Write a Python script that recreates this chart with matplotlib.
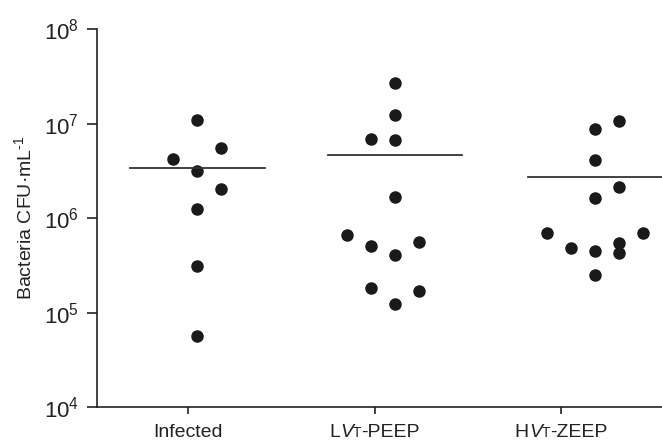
import numpy as np
import matplotlib
matplotlib.use('Agg')
import matplotlib.pyplot as plt
from matplotlib.offsetbox import TextArea, HPacker, AnnotationBbox

plt.rcParams['font.family'] = ['Liberation Sans', 'DejaVu Sans']
plt.rcParams['mathtext.fontset'] = 'custom'
plt.rcParams['mathtext.rm'] = 'Liberation Sans'
plt.rcParams['mathtext.it'] = 'Liberation Sans:italic'

# log10(CFU/mL), with horizontal slot within each group
infected = [7.04, 6.74, 6.62, 6.50, 6.31, 6.10, 5.49, 4.75]
infected_slot = [0, 1, -1, 0, 1, 0, 0, 0]
lvt_peep = [7.43, 7.09, 6.84, 6.83, 6.22, 5.82, 5.70, 5.75, 5.61, 5.26, 5.23, 5.09]
lvt_slot = [0, 0, -1, 0, 0, -2, -1, 1, 0, -1, 1, 0]
hvt_zeep = [7.03, 6.94, 6.61, 6.33, 6.21, 5.84, 5.84, 5.68, 5.74, 5.65, 5.63, 5.40]
hvt_slot = [1, 0, 0, 1, 0, -2, 2, -1, 1, 0, 1, 0]
means = [6.53, 6.67, 6.43]

# tick label pieces: (text, style, size)
tick_parts = [
    [('Infected', 'normal', 14)],
    [('L', 'normal', 14), ('V', 'italic', 14), ('T', 'normal', 10), ('-PEEP', 'normal', 14)],
    [('H', 'normal', 14), ('V', 'italic', 14), ('T', 'normal', 10), ('-ZEEP', 'normal', 14)],
]

groups = [(infected, infected_slot), (lvt_peep, lvt_slot), (hvt_zeep, hvt_slot)]
centers = [0.05, 1.11, 2.18]
step = 0.129

fig = plt.figure(figsize=(6.62, 4.41), dpi=100)
ax = fig.add_axes([0.146, 0.077, 0.854, 0.857])

for (vals, slots), c, m in zip(groups, centers, means):
    xs = c + step * np.array(slots)
    ax.plot(xs, 10 ** np.array(vals), 'o', color='#1a1a1a', markersize=8, clip_on=False)
    ax.plot([c - 0.36, c + 0.36], [10 ** m, 10 ** m], '-', color='#333333', linewidth=1.3, clip_on=False)

ax.set_yscale('log')
ax.set_ylim(1e4, 1e8)
ax.set_xlim(-0.49, 2.54)
ax.set_yticks([1e4, 1e5, 1e6, 1e7, 1e8])
ax.set_yticklabels([r'$\mathregular{10^{%d}}$' % k for k in range(4, 9)], fontsize=16)
ax.yaxis.set_minor_locator(matplotlib.ticker.NullLocator())
ax.set_xticks([0, 1, 2])
ax.set_xticklabels(['', '', ''])

for s in ['top', 'right']:
    ax.spines[s].set_visible(False)
for s in ['left', 'bottom']:
    ax.spines[s].set_linewidth(1.2)
    ax.spines[s].set_color('#222222')
ax.tick_params(axis='y', length=7, width=1.2, pad=6, colors='#222222')
ax.tick_params(axis='x', length=5, width=1.2, colors='#222222')

for x, parts in zip([0, 1, 2], tick_parts):
    boxes = [TextArea(t, textprops=dict(fontsize=fs, style=st, color='#222222')) for t, st, fs in parts]
    pack = HPacker(children=boxes, pad=0, sep=0, align='baseline')
    ab = AnnotationBbox(pack, (x, 0), xycoords=ax.get_xaxis_transform(), xybox=(0, -12),
                        boxcoords='offset points', box_alignment=(0.5, 1), frameon=False,
                        pad=0, annotation_clip=False)
    ax.add_artist(ab)

ax.set_ylabel('Bacteria CFU\u00b7mL$^{\\mathregular{\u2010}1}$', fontsize=14, color='#222222', labelpad=6)

fig.savefig('out.png', dpi=100)
